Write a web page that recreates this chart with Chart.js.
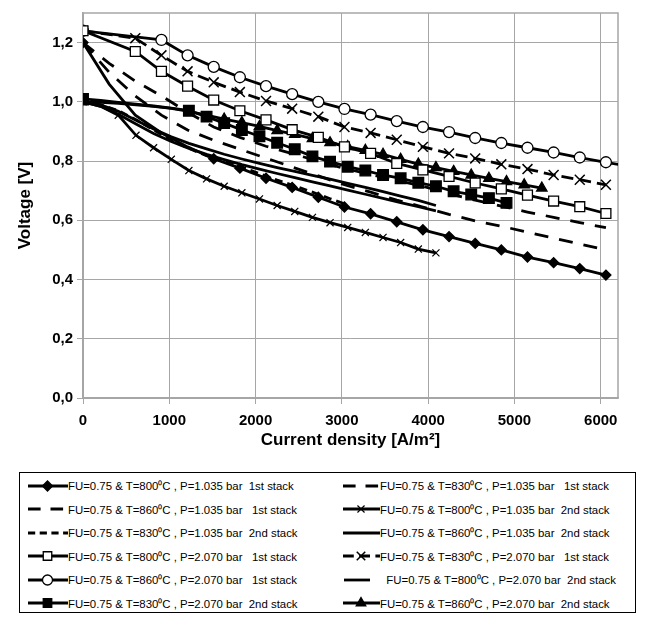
<!DOCTYPE html>
<html><head><meta charset="utf-8">
<script src="https://cdn.jsdelivr.net/npm/chart.js@4.4.0/dist/chart.umd.min.js"></script>
<style>
html,body{margin:0;padding:0;background:#fff;}
#wrap{position:relative;width:645px;height:617px;overflow:hidden;}
#c{position:absolute;left:0;top:0;}
#legend{position:absolute;left:19px;top:472px;width:617px;height:141px;border:1.5px solid #000;box-sizing:border-box;font-family:'Liberation Sans',Arial,sans-serif;font-size:11.4px;color:#000;}
.item{position:absolute;height:20px;display:flex;align-items:center;white-space:pre;}
.item canvas{display:block;}
</style></head><body>
<div id="wrap"><canvas id="c" width="645" height="452"></canvas><div id="legend"></div></div>
<script>
// ---- data ----
const current1st = [0,303,606,909,1212,1515,1818,2121,2424,2727,3030,3333,3636,3939,4242,4545,4848,5151,5454,5757,6060,6363];
const current2nd = [0,205,409,614,818,1023,1227,1432,1636,1841,2045,2250,2454,2659,2863,3068,3272,3477,3681,3886,4090,4295,4499,4704,4908,5113,5317];
const xTicks = [0,1000,2000,3000,4000,5000,6000];
const yTicks = [0,0.2,0.4,0.6,0.8,1.0,1.2];

const v800_1035_1st = [1.200,1.060,0.955,0.895,0.848,0.808,0.776,0.742,0.711,0.678,0.645,0.622,0.595,0.568,0.545,0.522,0.500,0.476,0.457,0.437,0.415];
const v860_1035_1st = [1.200,1.130,1.070,1.020,0.965,0.915,0.880,0.850,0.825,0.800,0.775,0.755,0.735,0.715,0.690,0.668,0.648,0.628,0.610,0.592,0.575];
const v830_1035_2nd = [1.000,0.990,0.970,0.940,0.905,0.870,0.843,0.818,0.800,0.780,0.758,0.736,0.716,0.695,0.673,0.652];
const v800_2070_1st = [1.240,null,1.170,1.103,1.053,1.006,0.970,0.939,0.906,0.880,0.848,0.826,0.792,0.770,0.748,0.726,0.706,0.685,0.665,0.646,0.623];
const v860_2070_1st = [1.240,null,null,1.209,1.157,1.118,1.083,1.053,1.026,1.000,0.976,0.957,0.935,0.915,0.898,0.878,0.861,0.845,0.829,0.812,0.796,0.780];
const v830_2070_2nd = [1.010,1.005,0.998,0.992,0.986,0.979,0.970,0.950,0.928,0.905,0.884,0.862,0.840,0.816,0.798,0.781,0.768,0.753,0.742,0.727,0.715,0.698,0.687,0.675,0.659];
const v830_1035_1st = [1.200,1.100,1.020,0.955,0.905,0.870,0.840,0.810,0.780,0.750,0.720,0.695,0.668,0.645,0.620,0.598,0.580,0.560,0.540,0.520,0.500];
const v800_1035_2nd = [1.000,0.985,0.955,0.887,0.845,0.806,0.768,0.740,0.715,0.693,0.672,0.650,0.630,0.610,0.592,0.576,0.559,0.542,0.525,0.503,0.490];
const v860_1035_2nd = [1.000,0.990,0.968,0.938,0.908,0.882,0.860,0.841,0.823,0.807,0.792,0.778,0.765,0.752,0.739,0.725,0.711,0.697,0.682,0.667,0.650];
const v830_2070_1st = [1.240,null,1.215,1.157,1.103,1.066,1.033,1.003,0.977,0.950,0.915,0.895,0.872,0.848,0.826,0.809,0.789,0.773,0.753,0.737,0.720];
const v800_2070_2nd = [1.000,0.985,0.958,0.925,0.893,0.866,0.843,0.823,0.805,0.788,0.773,0.758,0.744,0.730,0.716,0.702,0.688,0.674,0.660,0.646,0.632];
const v860_2070_2nd = [1.000,0.998,0.995,0.990,0.985,0.978,0.968,0.955,0.942,0.930,0.917,0.903,0.890,0.876,0.862,0.849,0.836,0.823,0.806,0.790,0.778,0.765,0.753,0.742,0.731,0.720,0.709];

const labels = {
  a:'FU=0.75 & T=800\u2070C , P=1.035 bar  1st stack',
  b:'FU=0.75 & T=860\u2070C , P=1.035 bar   1st stack',
  c:'FU=0.75 & T=830\u2070C , P=1.035 bar  2nd stack',
  d:'FU=0.75 & T=800\u2070C , P=2.070 bar   1st stack',
  e:'FU=0.75 & T=860\u2070C , P=2.070 bar   1st stack',
  f:'FU=0.75 & T=830\u2070C , P=2.070 bar  2nd stack',
  g:'FU=0.75 & T=830\u2070C , P=1.035 bar   1st stack',
  h:'FU=0.75 & T=800\u2070C , P=1.035 bar  2nd stack',
  i:'FU=0.75 & T=860\u2070C , P=1.035 bar  2nd stack',
  j:'FU=0.75 & T=830\u2070C , P=2.070 bar   1st stack',
  k:'FU=0.75 & T=800\u2070C , P=2.070 bar  2nd stack',
  l:'FU=0.75 & T=860\u2070C , P=2.070 bar  2nd stack'
};

function pts(xs, vs){ return vs.map((v,i)=>({x:xs[i], y:v})).filter(p=>p.y!==null); }
// marker radius that is hidden for the first points (markers not visible in the original there)
function hideFirst(n, r){ return ctx => (ctx.dataIndex >= 1 && ctx.dataIndex <= n) ? 0 : r; }

const BLK='#000';
function ds(label, xs, vs, st){
  return Object.assign({
    label, data: pts(xs, vs), borderColor: BLK, borderWidth: 2.8, tension: 0,
    pointRadius: 0, pointBorderColor: BLK, pointBackgroundColor: BLK, pointBorderWidth: 1.3,
    borderDash: [], fill: false
  }, st);
}

const datasets = [
  ds(labels.a, current1st, v800_1035_1st, {pointStyle:'rectRot', pointRadius:hideFirst(4,5), legendR:5}),
  ds(labels.b, current1st, v860_1035_1st, {borderDash:[14,11]}),
  ds(labels.c, current2nd, v830_1035_2nd, {borderDash:[8,5]}),
  ds(labels.d, current1st, v800_2070_1st, {pointStyle:'rect', pointRadius:7, pointBackgroundColor:'#fff', legendR:6}),
  ds(labels.e, current1st, v860_2070_1st, {pointStyle:'circle', pointRadius:5.5, pointBackgroundColor:'#fff', legendR:5}),
  ds(labels.f, current2nd, v830_2070_2nd, {pointStyle:'rect', pointRadius:hideFirst(5,7.5), legendR:6}),
  ds(labels.g, current1st, v830_1035_1st, {borderDash:[14,11]}),
  ds(labels.h, current2nd, v800_1035_2nd, {pointStyle:'crossRot', pointRadius:hideFirst(1,5), pointBorderWidth:1.2, legendR:5}),
  ds(labels.i, current2nd, v860_1035_2nd, {}),
  ds(labels.j, current1st, v830_2070_1st, {borderDash:[12,6], pointStyle:'crossRot', pointRadius:7, pointBorderWidth:1.5, legendR:6}),
  ds(labels.k, current2nd, v800_2070_2nd, {}),
  ds(labels.l, current2nd, v860_2070_2nd, {pointStyle:'triangle', pointRadius:hideFirst(7,6), legendR:5.5})
];

const FONT = "'Liberation Sans', Arial, sans-serif";
const GRID = '#a6a6a6';

const frame = {
  id:'frame',
  beforeDatasetsDraw(chart){
    const {ctx, chartArea:a} = chart;
    ctx.save(); ctx.strokeStyle = GRID; ctx.lineWidth = 1.5;
    ctx.strokeRect(a.left, a.top, a.right-a.left, a.bottom-a.top);
    ctx.restore();
  }
};

new Chart(document.getElementById('c'), {
  type:'line',
  data:{datasets},
  options:{
    responsive:false, animation:false,
    layout:{padding:{top:8, right:27, left:0, bottom:0}},
    plugins:{legend:{display:false}, tooltip:{enabled:false}},
    scales:{
      x:{
        type:'linear', min:0, max:6200,
        afterBuildTicks(s){ s.ticks = xTicks.map(v=>({value:v})); },
        afterFit(s){ s.height = 54; },
        ticks:{color:'#000', font:{family:FONT, size:15, weight:'bold'}, padding:8, maxRotation:0, autoSkip:false, callback:v=>String(v)},
        grid:{color:GRID, lineWidth:1, tickLength:6, tickColor:GRID},
        border:{color:GRID, width:1.5},
        title:{display:true, text:'Current density [A/m\u00B2]', color:'#000', font:{family:FONT, size:17, weight:'bold'}, padding:{top:0, bottom:1}}
      },
      y:{
        type:'linear', min:0, max:1.3,
        afterBuildTicks(s){ s.ticks = yTicks.map(v=>({value:v})); },
        afterFit(s){ s.width = 83; },
        ticks:{color:'#000', font:{family:FONT, size:15, weight:'bold'}, padding:4, autoSkip:false, callback:v=>v.toFixed(1).replace('.', ',')},
        grid:{color:GRID, lineWidth:1, tickLength:6, tickColor:GRID},
        border:{color:GRID, width:1.5},
        title:{display:true, text:'Voltage [V]', color:'#000', font:{family:FONT, size:17, weight:'bold'}, padding:{top:15, bottom:0}}
      }
    }
  },
  plugins:[frame]
});

// ---- HTML legend (two columns, row-major) ----
const legend = document.getElementById('legend');
const rowCenters = [12.5, 36, 59.5, 83, 106.5, 130];
const order = [[0,6],[1,7],[2,8],[3,9],[4,10],[5,11]];
order.forEach((pair, r)=>{
  pair.forEach((idx, col)=>{
    const d = datasets[idx];
    const item = document.createElement('div');
    item.className = 'item';
    item.style.top = (rowCenters[r]-10)+'px';
    item.style.left = (col===0 ? 7 : 322)+'px';
    const sw = col===0 ? 41 : 38;
    const cv = document.createElement('canvas');
    cv.width = sw; cv.height = 20;
    const c2 = cv.getContext('2d');
    c2.strokeStyle = BLK; c2.lineWidth = 2.8;
    c2.setLineDash(d.borderDash && d.borderDash.length ? d.borderDash.map(v=>v*0.9) : []);
    c2.beginPath();
    if (idx===10){ c2.moveTo(2,10); c2.lineTo(sw-10,10); }
    else { c2.moveTo(1,10); c2.lineTo(sw,10); }
    c2.stroke();
    c2.setLineDash([]);
    if (d.legendR && Chart.helpers && Chart.helpers.drawPoint){
      c2.fillStyle = d.pointBackgroundColor; c2.strokeStyle = BLK; c2.lineWidth = d.pointBorderWidth;
      Chart.helpers.drawPoint(c2, {pointStyle:d.pointStyle, radius:d.legendR, rotation:0, borderWidth:d.pointBorderWidth}, sw/2, 10);
    }
    item.appendChild(cv);
    const t = document.createElement('span');
    t.textContent = (idx===10 ? '  ' : '') + d.label;
    item.appendChild(t);
    legend.appendChild(item);
  });
});
</script>
</body></html>
